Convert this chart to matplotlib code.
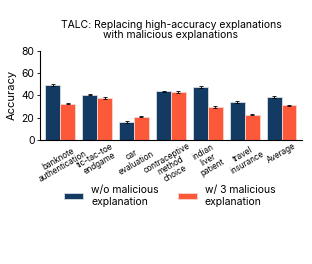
import matplotlib
matplotlib.use("Agg")
import matplotlib.pyplot as plt
import numpy as np

plt.rcParams['font.family'] = ['Inter', 'DejaVu Sans']

categories = ["banknote\nauthentication", "tic-tac-toe\nendgame", "car\nevaluation",
              "contraceptive\nmethod\nchoice", "indian\nliver\npatient", "travel\ninsurance", "Average"]
without_mal = [49.3, 40.8, 16.2, 43.8, 47.6, 34.1, 38.6]
with_mal = [32.7, 37.7, 20.8, 43.0, 29.6, 22.7, 31.1]
err_without = [0.6, 0.5, 0.6, 0.6, 0.5, 0.6, 0.5]
err_with = [0.5, 0.6, 0.5, 0.6, 0.6, 0.4, 0.5]
labels = ["w/o malicious\nexplanation", "w/ 3 malicious\nexplanation"]

c1 = "#123a63"
c2 = "#fc593a"

fig = plt.figure(figsize=(3.12, 2.64), dpi=100)
ax = fig.add_axes([0.128, 0.47, 0.84, 0.337])
x = np.arange(len(categories))
w = 0.4
ax.bar(x - w/2, without_mal, w, color=c1, edgecolor="#d8dde3", linewidth=0.6,
       yerr=err_without, error_kw=dict(elinewidth=0.6, capsize=1.5, capthick=0.6, ecolor="black"),
       label=labels[0])
ax.bar(x + w/2, with_mal, w, color=c2, edgecolor="#f5d5cf", linewidth=0.6,
       yerr=err_with, error_kw=dict(elinewidth=0.6, capsize=1.5, capthick=0.6, ecolor="black"),
       label=labels[1])
ax.set_ylim(0, 80)
ax.set_yticks([0, 20, 40, 60, 80])
ax.set_xlim(-0.55, len(categories) - 0.45)
ax.set_xticks(x)
ax.set_xticklabels(categories, rotation=30, ha="center",
                   fontsize=5.8, multialignment="center", linespacing=1.0)
ax.tick_params(axis="x", length=0, pad=1)
ax.tick_params(axis="y", labelsize=7.5, length=2.5, width=0.6, pad=1.5)
ax.set_ylabel("Accuracy", fontsize=8, labelpad=3)
for s in ["top", "right"]:
    ax.spines[s].set_visible(False)
for s in ["left", "bottom"]:
    ax.spines[s].set_linewidth(0.8)
ax.set_title("TALC: Replacing high-accuracy explanations\nwith malicious explanations",
             fontsize=7.5, pad=9, linespacing=1.1)
fig.legend(loc="center", bbox_to_anchor=(0.545, 0.258), ncol=2, frameon=False,
           fontsize=7.5, handlelength=1.8, handleheight=0.55, columnspacing=1.9,
           handletextpad=0.75, labelspacing=0.2)
fig.savefig("out.png", dpi=100)
